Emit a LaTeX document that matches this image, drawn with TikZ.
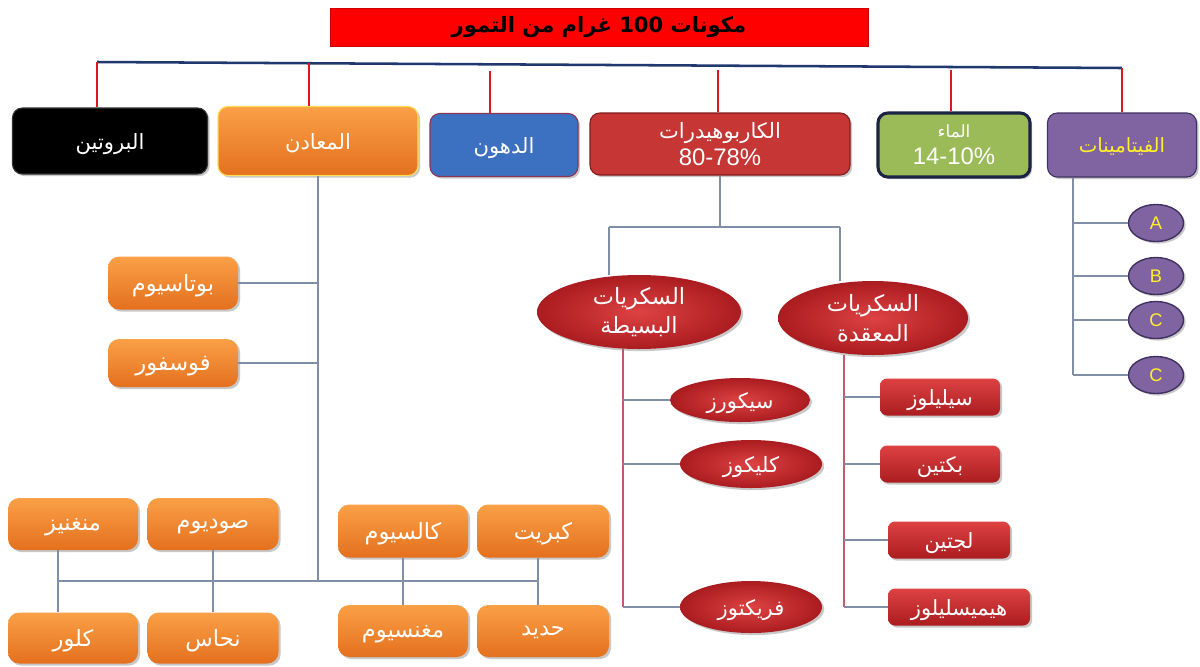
\documentclass[tikz,border=0pt]{standalone}
\usepackage{fontspec}
\setmainfont{Liberation Sans}
\newfontfamily\arabicfont[Script=Arabic]{DejaVu Sans}
\usetikzlibrary{shapes.geometric,shadows}
\TeXXeTstate=1
\newcommand{\artxt}[1]{{\arabicfont\beginR #1\endR}}

\definecolor{navyline}{RGB}{31,56,110}
\definecolor{dropred}{RGB}{220,24,34}
\definecolor{linkgray}{RGB}{128,143,166}
\definecolor{pinkline}{RGB}{196,88,108}
\definecolor{orangetop}{RGB}{250,160,70}
\definecolor{orangebot}{RGB}{228,112,30}
\definecolor{minborder}{RGB}{255,220,80}
\definecolor{fatblue}{RGB}{60,112,192}
\definecolor{fatborder}{RGB}{140,52,84}
\definecolor{carbred}{RGB}{198,54,52}
\definecolor{carbborder}{RGB}{130,30,30}
\definecolor{watergreen}{RGB}{155,187,89}
\definecolor{waterborder}{RGB}{28,36,70}
\definecolor{vitpurple}{RGB}{128,100,162}
\definecolor{vitdark}{RGB}{63,49,96}
\definecolor{sugarin}{RGB}{222,66,66}
\definecolor{sugarout}{RGB}{170,28,32}
\definecolor{vityellow}{RGB}{255,240,40}

\tikzset{
  boxsize/.style 2 args={minimum width=#1*0.025cm, minimum height=#2*0.025cm, inner sep=0pt},
  softshadow/.style={drop shadow={shadow xshift=1.5pt, shadow yshift=-1.5pt, opacity=.3, fill=black!70}},
  flat/.style={text depth=0pt},
  titlebox/.style={fill=red, draw=red!80!black, font=\fontsize{15}{18}\selectfont\bfseries},
  topbox/.style={rounded corners=7pt, draw, line width=0.8pt, align=center, text=white,
    font=\fontsize{15}{19}\selectfont, softshadow},
  orangebox/.style={rounded corners=8pt, top color=orangetop, bottom color=orangebot,
    text=white, font=\fontsize{16}{18}\selectfont, flat, softshadow},
  sugar/.style={ellipse, inner color=sugarin, outer color=sugarout, text=white, align=center,
    font=\fontsize{15}{20}\selectfont, softshadow},
  fiber/.style={rounded corners=5pt, top color=sugarin, bottom color=sugarout, text=white,
    font=\fontsize{15}{17}\selectfont, flat, softshadow},
  vitball/.style={ellipse, fill=vitpurple, draw=vitdark, line width=1pt, text=vityellow,
    font=\fontsize{13}{15}\selectfont, softshadow},
  trunk/.style={draw=navyline, line width=1.8pt},
  reddrop/.style={draw=dropred, line width=1.8pt},
  link/.style={draw=linkgray, line width=0.9pt},
  sugarlink/.style={draw=pinkline, line width=0.9pt}
}

\begin{document}
\begin{tikzpicture}[x=0.025cm,y=-0.025cm]
\path[use as bounding box, fill=white] (0,0) rectangle (1200,666);

\node[titlebox, boxsize={538}{38}] (title) at (599,27)
  {\artxt{مكونات \beginL 100\endL{}  غرام من التمور}};

% top row
\node[topbox, flat, fill=black, draw=black!80, boxsize={195}{66}] (prot) at (110,141) {\artxt{البروتين}};
\node[topbox, flat, top color=orangetop, bottom color=orangebot, draw=minborder, boxsize={200}{69}] (min) at (318,141) {\artxt{المعادن}};
\node[topbox, flat, fill=fatblue, draw=fatborder, boxsize={148}{63}] (fat) at (504,145) {\artxt{الدهون}};
\node[topbox, fill=carbred, draw=carbborder, boxsize={260}{62}] (carb) at (720,144)
  {\artxt{الكاربوهيدرات}\\{\fontsize{17}{19}\selectfont 80-78\%}};
\node[topbox, fill=watergreen, draw=waterborder, line width=2.2pt, boxsize={152}{64}] (water) at (954,145)
  {{\fontsize{12}{14}\selectfont\artxt{الماء}}\\{\fontsize{17}{19}\selectfont 14-10\%}};
\node[topbox, flat, fill=vitpurple, draw=vitdark, text=vityellow, font=\fontsize{14}{17}\selectfont, boxsize={149}{64}] (vit) at (1122,145) {\artxt{الفيتامينات}};

\coordinate (t1) at (97,62);
\coordinate (t2) at (309,63);
\coordinate (t3) at (490,71);
\coordinate (t4) at (718,70);
\coordinate (t5) at (951,70);
\coordinate (t6) at (1122,68);
\draw[trunk] (t1) -- (t6);
\draw[reddrop] (t1) -- (t1 |- prot.north);
\draw[reddrop] (t2) -- (t2 |- min.north);
\draw[reddrop] (t3) -- (t3 |- fat.north);
\draw[reddrop] (t4) -- (t4 |- carb.north);
\draw[reddrop] (t5) -- (t5 |- water.north);
\draw[reddrop] (t6) -- (vit.north);

% minerals
\node[orangebox, boxsize={130}{53}] (pot) at (173,283) {\artxt{بوتاسيوم}};
\node[orangebox, boxsize={130}{48}] (phos) at (173,363) {\artxt{فوسفور}};
\node[orangebox, boxsize={130}{52}] (mang) at (73,524) {\artxt{منغنيز}};
\node[orangebox, boxsize={131}{52}] (sod) at (213,524) {\artxt{صوديوم}};
\node[orangebox, boxsize={130}{51}] (chl) at (73,638) {\artxt{كلور}};
\node[orangebox, boxsize={131}{51}] (cop) at (213,638) {\artxt{نحاس}};
\node[orangebox, boxsize={130}{53}] (cal) at (403,531) {\artxt{كالسيوم}};
\node[orangebox, boxsize={132}{53}] (sul) at (543,531) {\artxt{كبريت}};
\node[orangebox, boxsize={130}{52}] (mag) at (403,631) {\artxt{مغنسيوم}};
\node[orangebox, boxsize={132}{52}] (iron) at (543,631) {\artxt{حديد}};

\coordinate (mj) at (318,581);
\coordinate (b1) at (58,581);
\coordinate (b4) at (538,581);
\draw[link] (min.south) -- (mj);
\draw[link] (pot.east) -- (pot.east -| min.south);
\draw[link] (phos.east) -- (phos.east -| min.south);
\draw[link] (b1) -- (b4);
\draw[link] (b1 |- mang.south) -- (b1 |- chl.north);
\draw[link] (sod.south) -- (cop.north);
\draw[link] (cal.south) -- (mag.north);
\draw[link] (b4 |- sul.south) -- (b4 |- iron.north);

% carbohydrates
\node[sugar, boxsize={204}{74}, font=\fontsize{16}{21}\selectfont] (simple) at (639,312) {\artxt{السكريات}\\\artxt{البسيطة}};
\node[sugar, boxsize={190}{74}, font=\fontsize{16}{21}\selectfont] (complex) at (873,318) {\artxt{السكريات}\\\artxt{المعقدة}};
\coordinate (cl) at (609,227);
\coordinate (cr) at (840,227);
\draw[link] (carb.south) -- (carb.south |- cl);
\draw[link] (cl) -- (cr);
\draw[link] (cl) -- (cl |- simple.north);
\draw[link] (cr) -- (cr |- complex.north);

\node[sugar, flat, boxsize={140}{44}] (suc) at (740,400) {\artxt{سيكورز}};
\node[sugar, flat, boxsize={142}{48}] (glu) at (751,464) {\artxt{كليكوز}};
\node[sugar, flat, boxsize={142}{52}] (fru) at (751,607) {\artxt{فريكتوز}};
\coordinate (sv) at (623,607);
\draw[sugarlink] (sv |- simple.south) -- (sv);
\draw[link] (sv |- suc.west) -- (suc.west);
\draw[link] (sv |- glu.west) -- (glu.west);
\draw[link] (sv) -- (fru.west);

\node[fiber, boxsize={120}{37}] (cel) at (940,397) {\artxt{سيليلوز}};
\node[fiber, boxsize={120}{37}] (pec) at (940,464) {\artxt{بكتين}};
\node[fiber, boxsize={122}{37}] (lig) at (949,540) {\artxt{لجتين}};
\node[fiber, boxsize={142}{37}] (hem) at (959,607) {\artxt{هيميسليلوز}};
\coordinate (cv) at (844,607);
\draw[sugarlink] (cv |- complex.south) -- (cv);
\draw[link] (cv |- cel.west) -- (cel.west);
\draw[link] (cv |- pec.west) -- (pec.west);
\draw[link] (cv |- lig.west) -- (lig.west);
\draw[link] (cv) -- (hem.west);

% vitamins
\node[vitball, boxsize={55}{37}] (va) at (1156,223) {A};
\node[vitball, boxsize={55}{37}] (vb) at (1156,276) {B};
\node[vitball, boxsize={55}{37}] (vc) at (1156,320) {C};
\node[vitball, boxsize={55}{37}] (vd) at (1156,375) {C};
\coordinate (vv) at (1073,375);
\draw[link] (vit.south -| vv) -- (vv);
\draw[link] (vv |- va.west) -- (va.west);
\draw[link] (vv |- vb.west) -- (vb.west);
\draw[link] (vv |- vc.west) -- (vc.west);
\draw[link] (vv) -- (vd.west);
\end{tikzpicture}
\end{document}
